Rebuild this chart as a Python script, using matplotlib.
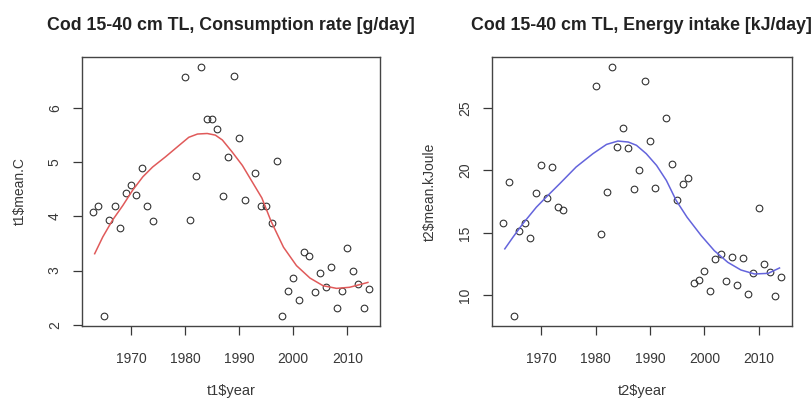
import matplotlib
matplotlib.use("Agg")
import matplotlib.pyplot as plt

plt.rcParams['font.family'] = ['Liberation Sans', 'DejaVu Sans']

# Annual means for cod 15-40 cm total length
years = [1963, 1964, 1965, 1966, 1967, 1968, 1969, 1970, 1971, 1972, 1973, 1974,
         1980, 1981, 1982, 1983, 1984, 1985, 1986, 1987, 1988, 1989, 1990, 1991,
         1993, 1994, 1995, 1996, 1997, 1998, 1999, 2000, 2001, 2002, 2003, 2004,
         2005, 2006, 2007, 2008, 2009, 2010, 2011, 2012, 2013, 2014]

consumption = [4.08, 4.20, 2.16, 3.93, 4.20, 3.79, 4.43, 4.57, 4.40, 4.89, 4.20, 3.91,
               6.58, 3.93, 4.75, 6.76, 5.79, 5.80, 5.61, 4.38, 5.10, 6.59, 5.44, 4.31,
               4.80, 4.20, 4.20, 3.88, 5.02, 2.16, 2.62, 2.86, 2.46, 3.35, 3.27, 2.61,
               2.95, 2.70, 3.07, 2.31, 2.63, 3.42, 2.99, 2.75, 2.31, 2.66]

energy = [15.80, 19.09, 8.35, 15.16, 15.80, 14.60, 18.17, 20.42, 17.75, 20.26, 17.05, 16.84,
          26.72, 14.94, 18.25, 28.27, 21.89, 23.36, 21.78, 18.47, 19.99, 27.15, 22.34, 18.55,
          24.21, 20.53, 17.59, 18.90, 19.35, 11.00, 11.20, 11.92, 10.35, 12.90, 13.30, 11.15,
          13.10, 10.83, 13.00, 10.10, 11.80, 17.00, 12.50, 11.90, 9.98, 11.50]

# Smoothed trend lines
smooth1_years = [1963.3, 1964.8, 1966.6, 1968.5, 1970.3, 1972.2, 1974.0, 1976.4, 1978.9,
                 1980.7, 1982.3, 1984.1, 1985.6, 1986.9, 1988.7, 1990.6, 1992.4, 1994.2,
                 1995.9, 1998.2, 2000.6, 2003.1, 2005.5, 2008.0, 2010.4, 2012.3, 2013.8]
smooth1_vals = [3.31, 3.62, 3.93, 4.20, 4.48, 4.73, 4.91, 5.10, 5.31,
                5.46, 5.52, 5.53, 5.50, 5.41, 5.19, 4.94, 4.64, 4.34,
                3.91, 3.43, 3.09, 2.86, 2.72, 2.67, 2.69, 2.74, 2.78]

smooth2_years = [1963.3, 1964.8, 1966.6, 1969.1, 1970.9, 1973.4, 1976.4, 1979.5, 1982.0,
                 1984.1, 1986.0, 1987.5, 1989.3, 1991.2, 1993.0, 1994.8, 1996.8, 1999.4,
                 2001.8, 2004.3, 2006.7, 2009.2, 2011.7, 2013.8]
smooth2_vals = [13.72, 14.65, 15.72, 17.05, 17.85, 18.93, 20.26, 21.33, 22.07,
                22.34, 22.26, 22.00, 21.33, 20.39, 19.19, 17.59, 16.25, 14.78,
                13.58, 12.64, 12.03, 11.71, 11.76, 12.19]

xticks = [1970, 1980, 1990, 2000, 2010]

fig = plt.figure(figsize=(8.12, 3.98), dpi=100)
ax1 = fig.add_axes([0.101, 0.181, 0.367, 0.676])
ax2 = fig.add_axes([0.606, 0.181, 0.369, 0.676])

panels = [
    (ax1, consumption, smooth1_years, smooth1_vals, '#e05a5a', [2, 3, 4, 5, 6],
     't1$year', 't1$mean.C', 'Cod 15-40 cm TL, Consumption rate [g/day]'),
    (ax2, energy, smooth2_years, smooth2_vals, '#6464dc', [10, 15, 20, 25],
     't2$year', 't2$mean.kJoule', 'Cod 15-40 cm TL, Energy intake [kJ/day]'),
]

ink = '#383838'
for ax, vals, sy, sv, col, yticks, xlab, ylab, title in panels:
    ax.plot(years, vals, linestyle='none', marker='o', markersize=4.8,
            markerfacecolor='none', markeredgecolor='#333333', markeredgewidth=0.8)
    ax.plot(sy, sv, color=col, linewidth=1.1)

    # R-style 4% padding around the data range
    x0, x1 = min(years), max(years)
    dx = (x1 - x0) * 0.04
    y0, y1 = min(vals), max(vals)
    dy = (y1 - y0) * 0.04
    ax.set_xlim(x0 - dx, x1 + dx)
    ax.set_ylim(y0 - dy, y1 + dy)

    ax.set_xticks(xticks)
    ax.set_yticks(yticks)
    ax.set_yticklabels([str(t) for t in yticks], rotation=90, va='center')
    ax.tick_params(direction='out', length=6.5, width=0.9, colors=ink,
                   labelsize=10, labelcolor=ink)
    ax.tick_params(axis='x', pad=12.5)
    ax.tick_params(axis='y', pad=8)
    for s in ax.spines.values():
        s.set_color('#444444')
        s.set_linewidth(1.0)

    ax.set_xlabel(xlab, fontsize=10.5, color=ink, va='center')
    ax.xaxis.set_label_coords(0.5, -0.242)
    ax.set_ylabel(ylab, fontsize=10, color=ink, va='center')
    ax.yaxis.set_label_coords(-0.207, 0.5)
    ax.set_title(title, fontsize=12.8, fontweight='bold', color='#222222',
                 y=1.117, pad=0, va='center')

fig.savefig('out.png', dpi=100)
